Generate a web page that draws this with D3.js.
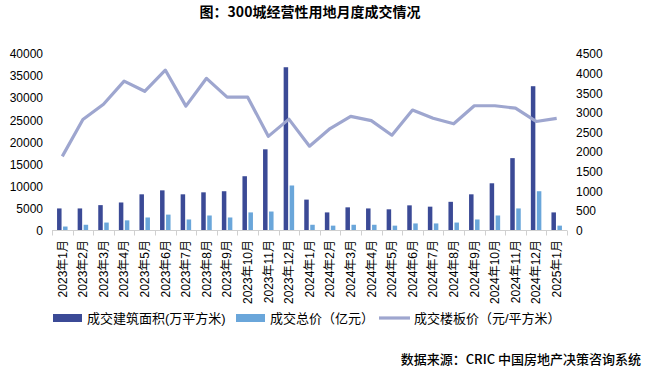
<!DOCTYPE html>
<html><head><meta charset="utf-8">
<script src="https://cdn.jsdelivr.net/npm/d3@7"></script>
<style>
body{margin:0;background:#fff;}
text{font-family:"Liberation Sans","Noto Sans CJK SC",sans-serif;}
</style></head>
<body><svg id="c" width="645" height="373"></svg>
<script>
const categories = ["2023年1月","2023年2月","2023年3月","2023年4月","2023年5月","2023年6月","2023年7月","2023年8月","2023年9月","2023年10月","2023年11月","2023年12月","2024年1月","2024年2月","2024年3月","2024年4月","2024年5月","2024年6月","2024年7月","2024年8月","2024年9月","2024年10月","2024年11月","2024年12月","2025年1月"];
const area = [5000,5000,5750,6350,8200,9100,8200,8650,8900,12300,18400,37000,7000,4100,5250,5000,4800,5700,5400,6500,8200,10700,16400,32700,4100];
const total = [900,1300,1800,2300,2950,3600,2500,3400,2950,4100,4300,10200,1300,1100,1300,1300,1100,1600,1600,1800,2500,3400,5000,8900,1100];
const price = [1890,2830,3220,3810,3550,4090,3170,3880,3400,3400,2400,2840,2150,2600,2910,2800,2430,3070,2860,2720,3180,3180,3120,2780,2860];
const leftTicks = [0,5000,10000,15000,20000,25000,30000,35000,40000];
const rightTicks = [0,500,1000,1500,2000,2500,3000,3500,4000,4500];
const seriesNames = ["成交建筑面积(万平方米)","成交总价（亿元）","成交楼板价（元/平方米）"];
const colors = ["#3b4a96","#6aa6da","#9ea6cf"];

const svg = d3.select("#c");
const x = d3.scaleBand().domain(categories).range([52,567]).padding(0);
const yL = d3.scaleLinear().domain([0,40000]).range([230.5,54]);
const yR = d3.scaleLinear().domain([0,4500]).range([230.5,54]);
const xi = d3.scaleBand().domain(["a","t"]).range([0,10.5]).paddingInner(0.25);

svg.append("text").attr("x",310).attr("y",17).attr("text-anchor","middle")
  .style("font-family","'Noto Sans CJK SC',sans-serif").style("font-weight","bold").style("font-size","14px").attr("fill","#000")
  .text("图：300城经营性用地月度成交情况");

const gl = svg.append("g").attr("transform","translate(52,0)")
  .call(d3.axisLeft(yL).tickValues(leftTicks).tickSize(0).tickPadding(9).tickFormat(d3.format("d")));
gl.select(".domain").remove();
gl.selectAll("text").style("font-size","12px").attr("fill","#000");

const gr = svg.append("g").attr("transform","translate(567,0)")
  .call(d3.axisRight(yR).tickValues(rightTicks).tickSize(0).tickPadding(9).tickFormat(d3.format("d")));
gr.select(".domain").remove();
gr.selectAll("text").style("font-size","12px").attr("fill","#000");

const g = svg.append("g");
categories.forEach((c,i)=>{
  const x0 = x(c) + x.bandwidth()/2 - 5.25;
  g.append("rect").attr("x",x0+xi("a")).attr("width",xi.bandwidth())
    .attr("y",yL(area[i])).attr("height",yL(0)-yL(area[i])).attr("fill",colors[0]);
  g.append("rect").attr("x",x0+xi("t")).attr("width",xi.bandwidth())
    .attr("y",yL(total[i])).attr("height",yL(0)-yL(total[i])).attr("fill",colors[1]);
});

const ax = svg.append("g").attr("transform","translate(0,230.5)");
ax.append("line").attr("x1",52).attr("x2",567).attr("stroke","#d0d0d0").attr("stroke-width",1);
categories.concat(["end"]).forEach((c,i)=>{
  const xx = i<categories.length ? x(c) : x.range()[1];
  ax.append("line").attr("x1",Math.round(xx)+0.5).attr("x2",Math.round(xx)+0.5).attr("y1",0).attr("y2",5).attr("stroke","#d0d0d0");
});
categories.forEach(c=>{
  svg.append("text").attr("transform",`translate(${x(c)+x.bandwidth()/2},240) rotate(-90)`)
    .attr("text-anchor","end").attr("dy","0.36em").style("font-size","12px").attr("fill","#000").text(c);
});

const line = d3.line().x((d,i)=>x(categories[i])+x.bandwidth()/2).y(d=>yR(d));
svg.append("path").datum(price).attr("d",line).attr("fill","none").attr("stroke",colors[2])
  .attr("stroke-width",3.2).attr("stroke-linejoin","round");

const lg = svg.append("g");
lg.append("rect").attr("x",53).attr("y",314).attr("width",29).attr("height",8).attr("fill",colors[0]);
lg.append("text").attr("x",87).attr("y",322.5).style("font-size","13px").attr("fill","#000").text(seriesNames[0]);
lg.append("rect").attr("x",236).attr("y",314).attr("width",29).attr("height",8).attr("fill",colors[1]);
lg.append("text").attr("x",270).attr("y",322.5).style("font-size","13px").attr("fill","#000").text(seriesNames[1]);
lg.append("line").attr("x1",379).attr("x2",410).attr("y1",318).attr("y2",318).attr("stroke",colors[2]).attr("stroke-width",3.2);
lg.append("text").attr("x",414).attr("y",322.5).style("font-size","13px").attr("fill","#000").text(seriesNames[2]);

svg.append("text").attr("x",641).attr("y",364).attr("text-anchor","end")
  .style("font-family","'Noto Sans CJK SC',sans-serif").style("font-size","13px").style("font-weight","500").attr("fill","#000")
  .text("数据来源：CRIC 中国房地产决策咨询系统");
</script></body></html>
